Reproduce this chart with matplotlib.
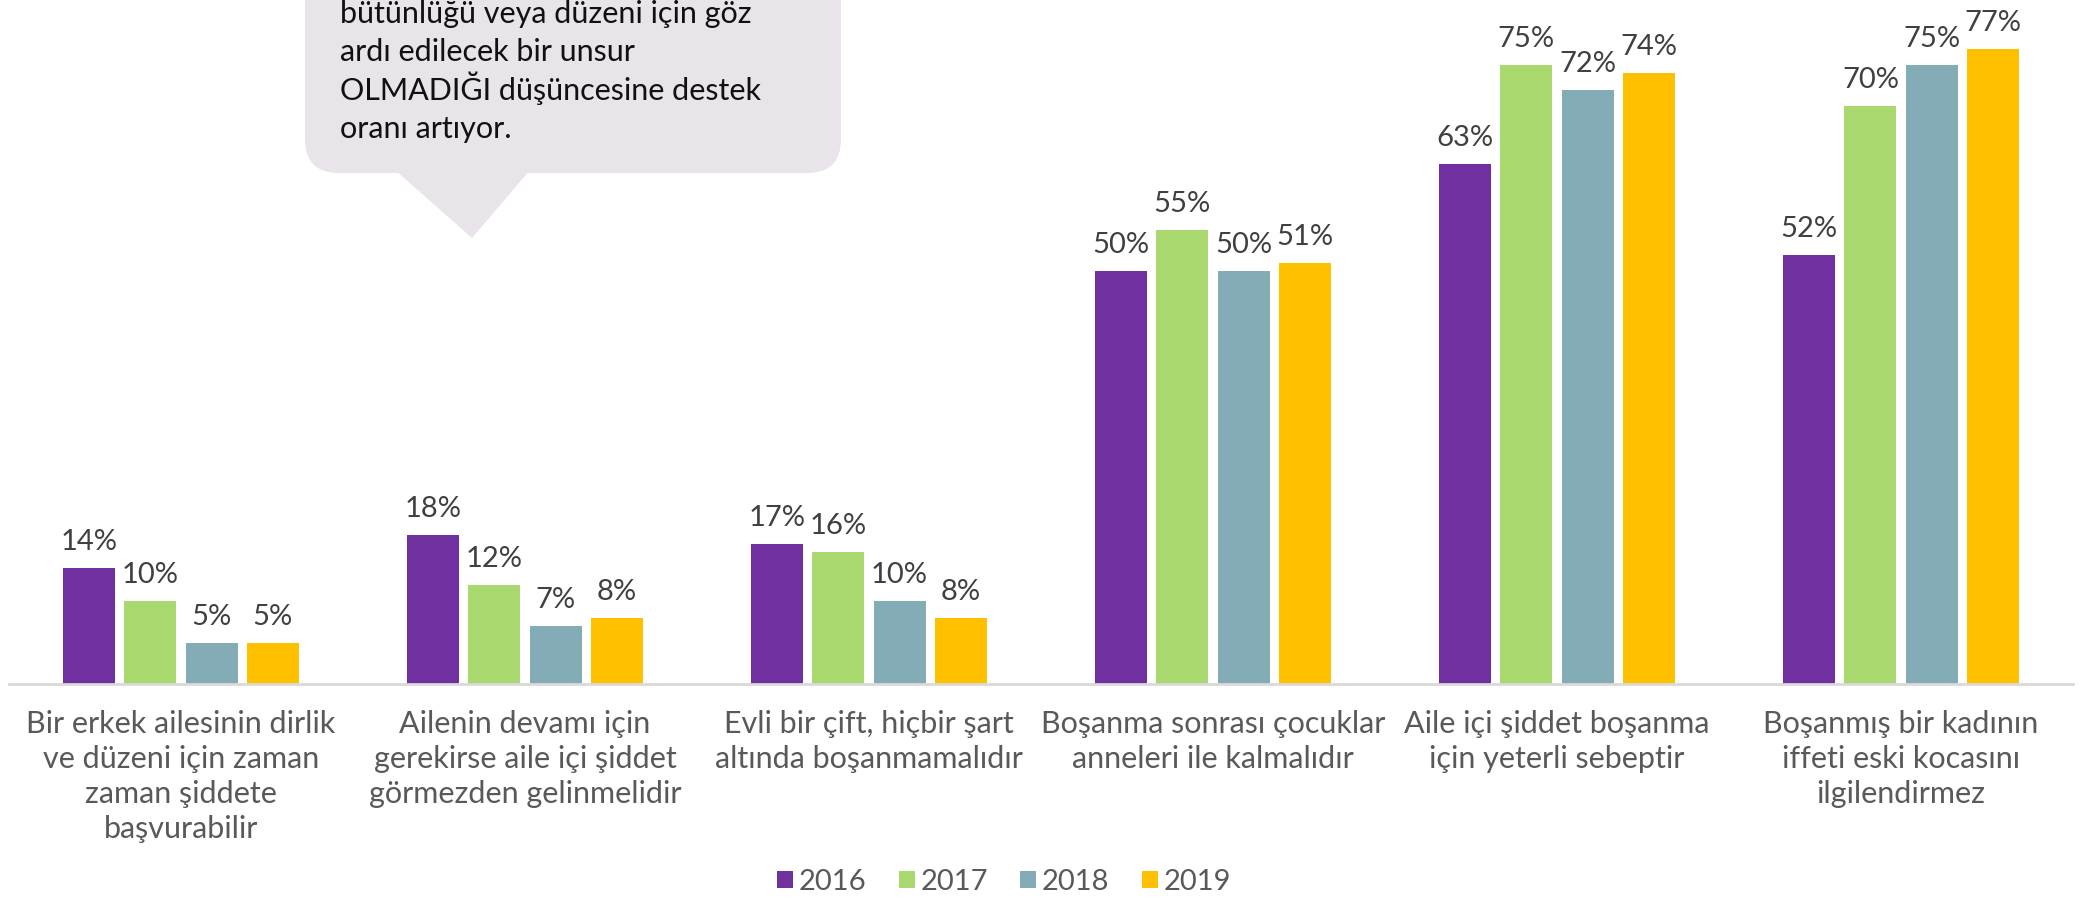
import matplotlib.pyplot as plt
import matplotlib.transforms as mtransforms
from matplotlib.patches import FancyBboxPatch, Polygon, Patch
import numpy as np

plt.rcParams['font.family'] = ['Lato', 'DejaVu Sans']

categories = [
    'Bir erkek ailesinin dirlik\nve düzeni için zaman\nzaman şiddete\nbaşvurabilir',
    'Ailenin devamı için\ngerekirse aile içi şiddet\ngörmezden gelinmelidir',
    'Evli bir çift, hiçbir şart\naltında boşanmamalıdır',
    'Boşanma sonrası çocuklar\nanneleri ile kalmalıdır',
    'Aile içi şiddet boşanma\niçin yeterli sebeptir',
    'Boşanmış bir kadının\niffeti eski kocasını\nilgilendirmez',
]
years = ['2016', '2017', '2018', '2019']
v2016 = [14, 18, 17, 50, 63, 52]
v2017 = [10, 12, 16, 55, 75, 70]
v2018 = [5, 7, 10, 50, 72, 75]
v2019 = [5, 8, 8, 51, 74, 77]
colors = ['#7030A0', '#A9D86E', '#84ACB6', '#FFC000']

callout_lines = [
    'bütünlüğü veya düzeni için göz',
    'ardı edilecek bir unsur',
    'OLMADIĞI düşüncesine destek',
    'oranı artıyor.',
]

W, H = 2090, 902
fig = plt.figure(figsize=(W / 100, H / 100), dpi=100)
ax = fig.add_axes([9 / W, (H - 684) / H, (2073 - 9) / W, 684 / H])

x = np.arange(len(categories))
step, width = 0.178, 0.151
for i, (vals, c) in enumerate(zip([v2016, v2017, v2018, v2019], colors)):
    bars = ax.bar(x + (i - 1.5) * step, vals, width, color=c, label=years[i])
    for b, v in zip(bars, vals):
        ax.annotate(f'{v}%', (b.get_x() + b.get_width() / 2, v), xytext=(0, 13),
                    textcoords='offset points', ha='center', va='baseline',
                    fontsize=21, color='#404040', annotation_clip=False)

ax.set_xlim(-0.5, 5.5)
ax.set_ylim(0, 82.9)
for s in ['top', 'right', 'left']:
    ax.spines[s].set_visible(False)
ax.spines['bottom'].set_color('#D9D9D9')
ax.spines['bottom'].set_linewidth(2)
ax.set_xticks([]); ax.set_yticks([])

trans = mtransforms.blended_transform_factory(ax.transData, ax.transAxes)
for xi, lab in zip(x, categories):
    ax.text(xi, -(710 - 684) / 684, lab, transform=trans, ha='center', va='top',
            fontsize=22, color='#595959', linespacing=1.3, multialignment='center')

# callout bubble (pixel coords, origin bottom-left)
ident = mtransforms.IdentityTransform()
bubble = FancyBboxPatch((305, H - 173), 841 - 305, 300,
                        boxstyle='round,pad=0,rounding_size=34',
                        facecolor='#E8E4EA', edgecolor='none', transform=ident)
fig.add_artist(bubble)
tail = Polygon([(395, H - 170), (530, H - 170), (472, H - 238)], closed=True,
               facecolor='#E8E4EA', edgecolor='none', transform=ident)
fig.add_artist(tail)
for k, line in enumerate(callout_lines):
    fig.text(340 / W, 1 - (23 + 38.4 * k) / H, line, ha='left', va='baseline',
             fontsize=22, color='#111111')

handles = [Patch(facecolor=c, label=y) for c, y in zip(colors, years)]
fig.legend(handles=handles, loc='center', bbox_to_anchor=(1004 / W, 20 / H), ncol=4,
           frameon=False, fontsize=21, handlelength=0.55, handleheight=0.55,
           handletextpad=0.2, columnspacing=1.1, labelcolor='#595959')

fig.savefig('out.png', dpi=100)
